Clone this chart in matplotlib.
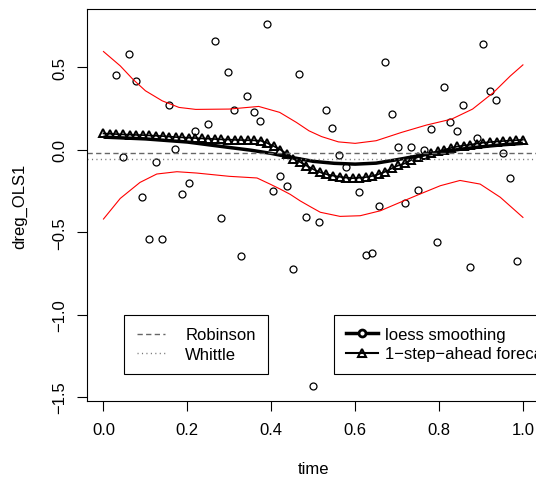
import matplotlib
matplotlib.use("Agg")
import matplotlib.pyplot as plt
from matplotlib.lines import Line2D

plt.rcParams['font.family'] = ['Liberation Sans', 'DejaVu Sans']
plt.rcParams['font.size'] = 12

# observed differenced OLS residuals
time_obs = [0.030, 0.046, 0.062, 0.078, 0.093, 0.109, 0.125, 0.140, 0.156, 0.171,
            0.187, 0.203, 0.218, 0.250, 0.266, 0.281, 0.297, 0.312, 0.328, 0.343,
            0.359, 0.374, 0.390, 0.405, 0.421, 0.437, 0.452, 0.467, 0.483, 0.499,
            0.515, 0.531, 0.546, 0.562, 0.578, 0.608, 0.625, 0.640, 0.656, 0.672,
            0.687, 0.702, 0.718, 0.733, 0.749, 0.764, 0.780, 0.795, 0.812, 0.827,
            0.843, 0.858, 0.874, 0.890, 0.905, 0.921, 0.937, 0.952, 0.968, 0.985]
dreg_obs = [0.455, -0.042, 0.584, 0.418, -0.285, -0.539, -0.075, -0.539, 0.271, 0.006,
            -0.267, -0.200, 0.113, 0.158, 0.657, -0.416, 0.471, 0.242, -0.642, 0.327,
            0.228, 0.174, 0.766, -0.250, -0.158, -0.222, -0.725, 0.457, -0.410, -1.434,
            -0.440, 0.241, 0.132, -0.030, -0.103, -0.255, -0.638, -0.626, -0.341, 0.533,
            0.218, 0.018, -0.325, 0.018, -0.246, -0.004, 0.127, -0.561, 0.378, 0.166,
            0.115, 0.269, -0.713, 0.073, 0.642, 0.358, 0.301, -0.018, -0.172, -0.675]

# loess smoothing
loess_time = [0.0, 0.1, 0.2, 0.3, 0.35, 0.4, 0.45, 0.5, 0.55, 0.6, 0.65, 0.7,
              0.75, 0.8, 0.85, 0.9, 0.95, 1.0]
loess_fit = [0.077, 0.066, 0.047, 0.014, -0.002, -0.022, -0.047, -0.070, -0.082,
             -0.087, -0.081, -0.060, -0.037, -0.015, 0.003, 0.018, 0.030, 0.039]

# confidence bands (red)
upper_time = [0.0, 0.04, 0.07, 0.10, 0.14, 0.18, 0.22, 0.30, 0.37, 0.42, 0.46, 0.49,
              0.52, 0.56, 0.60, 0.65, 0.71, 0.77, 0.83, 0.88, 0.93, 0.97, 1.0]
upper_band = [0.596, 0.509, 0.428, 0.358, 0.297, 0.257, 0.245, 0.247, 0.263, 0.227,
              0.166, 0.115, 0.080, 0.048, 0.039, 0.055, 0.105, 0.150, 0.186, 0.247,
              0.348, 0.448, 0.515]
lower_time = [0.0, 0.04, 0.087, 0.127, 0.175, 0.222, 0.30, 0.366, 0.397, 0.421, 0.445,
              0.469, 0.493, 0.517, 0.564, 0.612, 0.66, 0.707, 0.755, 0.803, 0.85,
              0.898, 0.946, 1.0]
lower_band = [-0.420, -0.295, -0.198, -0.147, -0.133, -0.141, -0.161, -0.171, -0.208,
              -0.238, -0.270, -0.310, -0.345, -0.379, -0.404, -0.400, -0.370, -0.319,
              -0.268, -0.218, -0.186, -0.208, -0.288, -0.410]

# 1-step-ahead forecast
fc_time = [0.000, 0.016, 0.031, 0.047, 0.063, 0.078, 0.094, 0.109, 0.125, 0.141,
           0.156, 0.172, 0.188, 0.203, 0.219, 0.234, 0.250, 0.266, 0.281, 0.297,
           0.313, 0.328, 0.344, 0.359, 0.375, 0.391, 0.406, 0.422, 0.438, 0.453,
           0.469, 0.484, 0.500, 0.516, 0.531, 0.547, 0.563, 0.578, 0.594, 0.609,
           0.625, 0.641, 0.656, 0.672, 0.688, 0.703, 0.719, 0.734, 0.750, 0.766,
           0.781, 0.797, 0.813, 0.828, 0.844, 0.859, 0.875, 0.891, 0.906, 0.922,
           0.938, 0.953, 0.969, 0.984, 1.000]
fc_value = [0.099, 0.097, 0.095, 0.093, 0.092, 0.090, 0.089, 0.087, 0.085, 0.083,
            0.080, 0.077, 0.075, 0.073, 0.071, 0.069, 0.067, 0.065, 0.063, 0.062,
            0.060, 0.059, 0.058, 0.057, 0.055, 0.040, 0.022, 0.000, -0.026, -0.055,
            -0.075, -0.096, -0.118, -0.136, -0.148, -0.157, -0.164, -0.169, -0.172, -0.170,
            -0.166, -0.159, -0.148, -0.133, -0.112, -0.095, -0.082, -0.062, -0.044, -0.030,
            -0.020, -0.010, 0.000, 0.011, 0.020, 0.026, 0.031, 0.038, 0.043, 0.047,
            0.050, 0.053, 0.056, 0.058, 0.061]

robinson = -0.018
whittle = -0.056

W, H = 536, 481
fig = plt.figure(figsize=(W / 100, H / 100), dpi=100)
ax = fig.add_axes([86.7 / W, (H - 401.7) / H, 453 / W, 391.7 / H])

ax.plot(time_obs, dreg_obs, linestyle='none', marker='o', ms=5.0,
        mfc='none', mec='black', mew=0.9)
ax.plot(upper_time, upper_band, color='red', lw=0.8)
ax.plot(lower_time, lower_band, color='red', lw=0.8)
ax.plot(loess_time, loess_fit, color='black', lw=2.5, solid_capstyle='butt')
ax.plot(fc_time, fc_value, color='black', lw=1.2, marker='^', ms=5.8,
        mfc='none', mec='black', mew=1.4)
ax.axhline(robinson, color='#666666', lw=1, linestyle=(0, (3.8, 2.4)))
ax.axhline(whittle, color='#777777', lw=1, linestyle=(0, (0.8, 2.4)))

ax.set_xlim(-0.04, 1.04)
ax.set_ylim(-1.522, 0.854)
ax.set_xticks([0.0, 0.2, 0.4, 0.6, 0.8, 1.0])
ax.set_xticklabels(["0.0", "0.2", "0.4", "0.6", "0.8", "1.0"])
ax.set_yticks([-1.5, -1.0, -0.5, 0.0, 0.5])
ax.set_yticklabels(["\u22121.5", "\u22121.0", "\u22120.5", "0.0", "0.5"])
ax.tick_params(axis='both', length=7.2, width=0.8, labelsize=12)
ax.tick_params(axis='x', pad=8.1)
ax.tick_params(axis='y', pad=7.0)
for lab in ax.get_yticklabels():
    lab.set_rotation(90)
    lab.set_va('center')
for sp in ax.spines.values():
    sp.set_linewidth(0.8)

fig.text(313 / W, (H - 470) / H, "time", ha='center', va='center', fontsize=12)
fig.text(20 / W, (H - 206) / H, "dreg_OLS1", ha='center', va='center',
         rotation=90, fontsize=12)

# legends
h_rob = Line2D([], [], color='#666666', lw=1, linestyle=(0, (3.8, 2.4)))
h_whi = Line2D([], [], color='#777777', lw=1, linestyle=(0, (0.8, 2.4)))
leg1 = ax.legend([h_rob, h_whi], ["Robinson", "Whittle"], loc='upper left',
                 bbox_to_anchor=((124.3 - 86.7) / 453, (401.7 - 316) / 391.7),
                 borderaxespad=0, fancybox=False, edgecolor='black', framealpha=1,
                 borderpad=0.75, labelspacing=0.25, handlelength=1.7,
                 handletextpad=1.2, fontsize=12)
leg1.get_frame().set_linewidth(0.8)
ax.add_artist(leg1)

h_loess = Line2D([], [], color='black', lw=2.5, marker='o', ms=5, mfc='white',
                 mec='black', mew=2.0)
h_fc = Line2D([], [], color='black', lw=1.5, marker='^', ms=6, mfc='none',
              mec='black', mew=1.5)
leg2 = ax.legend([h_loess, h_fc], ["loess smoothing", "1\u2212step\u2212ahead forecast"],
                 loc='upper left',
                 bbox_to_anchor=((333.7 - 86.7) / 453, (401.7 - 315.7) / 391.7),
                 borderaxespad=0, fancybox=False, edgecolor='black', framealpha=1,
                 borderpad=0.75, labelspacing=0.25, handlelength=1.9,
                 handletextpad=0.4, fontsize=12)
leg2.get_frame().set_linewidth(0.8)

fig.savefig("out.png", dpi=100)
